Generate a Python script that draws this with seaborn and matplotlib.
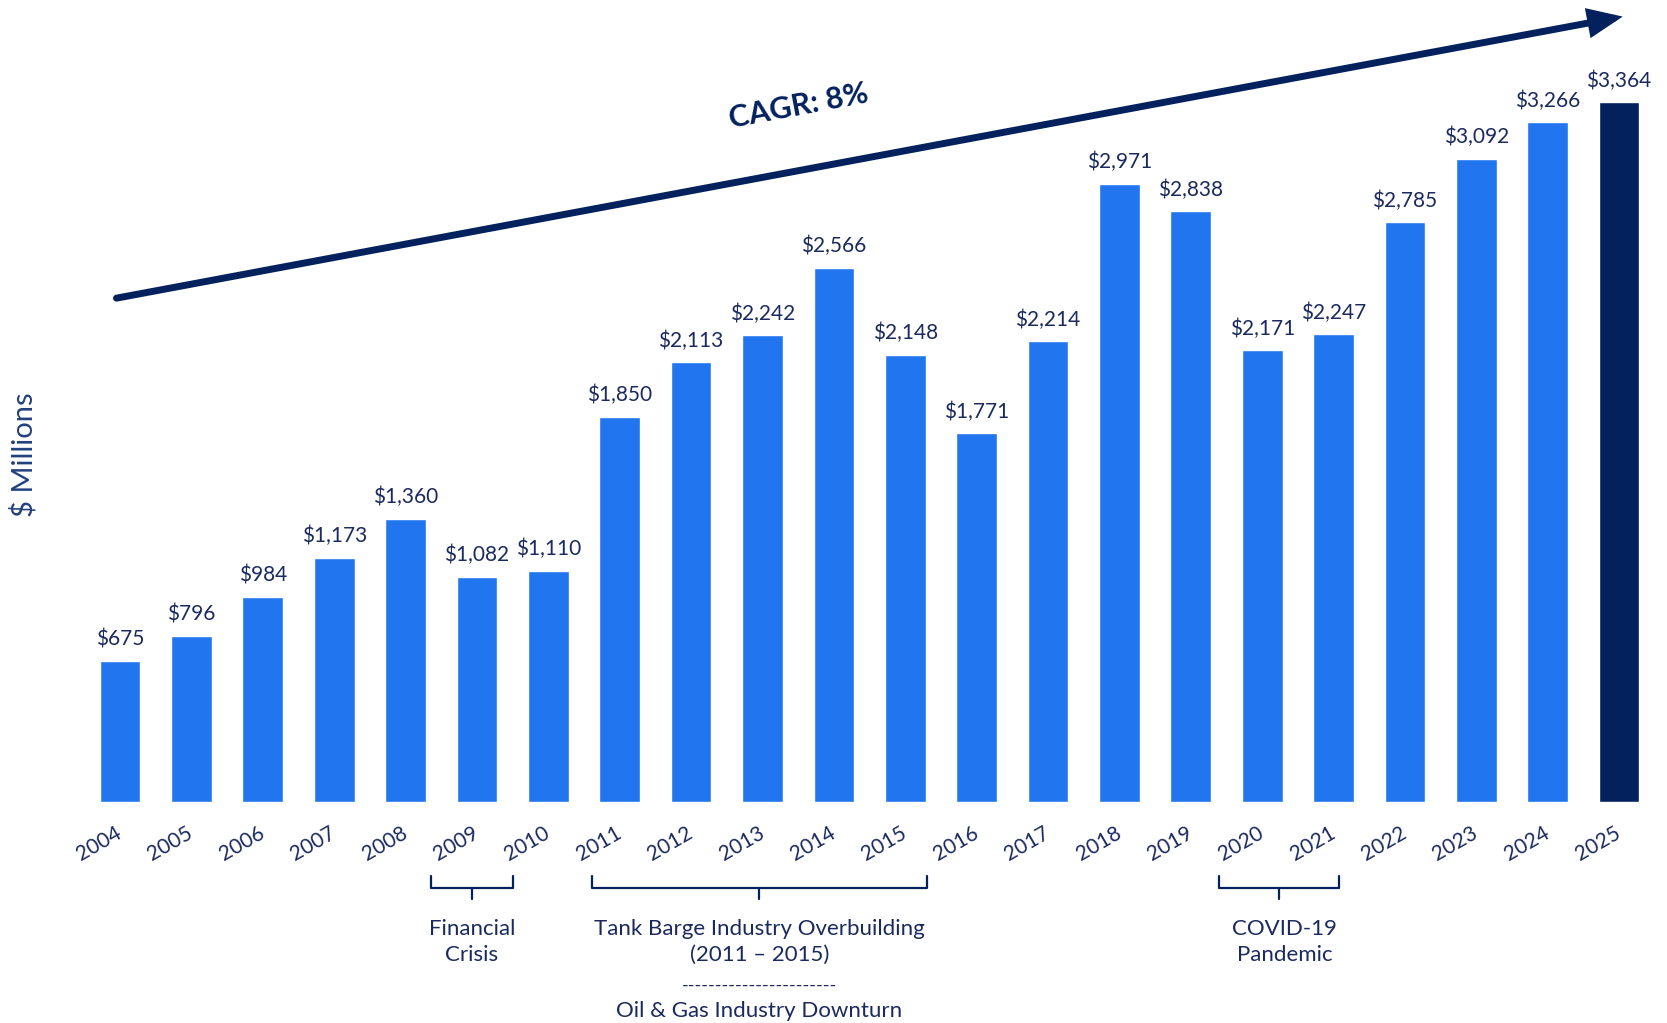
import matplotlib
matplotlib.use("Agg")
import matplotlib.pyplot as plt
import matplotlib.transforms as mtransforms
import seaborn as sns
import pandas as pd

# Revenue by year ($ millions)
years = ["2004", "2005", "2006", "2007", "2008", "2009", "2010", "2011",
         "2012", "2013", "2014", "2015", "2016", "2017", "2018", "2019",
         "2020", "2021", "2022", "2023", "2024", "2025"]
revenue = [675, 796, 984, 1173, 1360, 1082, 1110, 1850, 2113, 2242, 2566,
           2148, 1771, 2214, 2971, 2838, 2171, 2247, 2785, 3092, 3266, 3364]

# Period annotations: first and last year covered, and label text
periods_start = ["2009", "2011", "2020"]
periods_end = ["2009", "2015", "2021"]
period_labels = [
    "Financial\nCrisis",
    "Tank Barge Industry Overbuilding\n(2011 \u2013 2015)",
    "COVID-19\nPandemic",
]
period_sublabel = "Oil & Gas Industry Downturn"
cagr_label = "CAGR: 8%"

BLUE = "#2176F0"
NAVY = "#03215C"
TEXT = "#1B2A5E"

sns.set_theme(style="white")
plt.rcParams["font.family"] = ["Lato", "DejaVu Sans"]

df = pd.DataFrame({"year": years, "revenue": revenue})
palette = [BLUE] * (len(years) - 1) + [NAVY]

fig = plt.figure(figsize=(16.67, 10.23), dpi=100)
ax = fig.add_axes([0.0506, 0.2164, 0.9421, 0.7249])

sns.barplot(data=df, x="year", y="revenue", hue="year", palette=palette,
            width=0.57, legend=False, ax=ax, saturation=1)

ax.set_xlim(-0.5, len(years) - 0.5)
ax.set_ylim(0, 3566)
for s in ax.spines.values():
    s.set_visible(False)
ax.set_yticks([])
ax.set_xlabel("")
ax.set_ylabel("")

# value labels above bars
for i, v in enumerate(revenue):
    ax.text(i, v + 55, f"${v:,}", ha="center", va="bottom",
            fontsize=15, color=TEXT)

# rotated year labels
ax.tick_params(axis="x", length=0, pad=15.5)
ax.set_xticks(range(len(years)))
ax.set_xticklabels(years, rotation=30, ha="right", va="top",
                   rotation_mode="anchor", fontsize=15, color=TEXT)
offset = mtransforms.ScaledTranslation(-5 / 100, 0, fig.dpi_scale_trans)
for lbl in ax.get_xticklabels():
    lbl.set_transform(lbl.get_transform() + offset)

# y-axis caption
fig.text(0.014, 0.5557, "$ Millions", rotation=90, ha="center",
         va="center", fontsize=21, color="#22407F")

# growth arrow
ax.annotate("", xy=(21.05, 3775), xytext=(-0.05, 2421),
            xycoords="data", textcoords="data", annotation_clip=False,
            arrowprops=dict(arrowstyle="-|>,head_length=1.4,head_width=0.6",
                            lw=5, color=NAVY, shrinkA=0, shrinkB=0,
                            joinstyle="miter"))
ax.text(9.5, 3342, cagr_label, rotation=10.6, ha="center", va="center",
        fontsize=22, fontweight="bold", color=NAVY, rotation_mode="anchor")

# braces and period labels beneath the axis
xt = ax.get_xaxis_transform()
y_tip, y_mid, y_nub = -0.100, -0.1165, -0.131
pad_left = [0.65, 0.39, 0.61]
pad_right = [0.51, 0.30, 0.08]
label_shift = [0.0, 0.0, 0.08]
centers = []
for a, b, label, pl, pr, dx in zip(periods_start, periods_end, period_labels,
                                   pad_left, pad_right, label_shift):
    x0 = years.index(a) - pl
    x1 = years.index(b) + pr
    xc = (x0 + x1) / 2
    centers.append(xc)
    ax.plot([x0, x0, x1, x1], [y_tip, y_mid, y_mid, y_tip], transform=xt,
            color=NAVY, lw=1.6, clip_on=False, solid_joinstyle="round")
    ax.plot([xc, xc], [y_mid, y_nub], transform=xt, color=NAVY, lw=1.6,
            clip_on=False)
    ax.text(xc + dx, -0.158, label, transform=xt, ha="center", va="top",
            fontsize=16, color=TEXT, linespacing=1.38)

# secondary line under the overbuilding label
ax.text(centers[1], -0.248, "-" * 23, transform=xt, ha="center",
        va="center", fontsize=13, color=TEXT)
ax.text(centers[1], -0.283, period_sublabel, transform=xt,
        ha="center", va="center", fontsize=16, color=TEXT)

fig.savefig("out.png", dpi=100, facecolor="white")
